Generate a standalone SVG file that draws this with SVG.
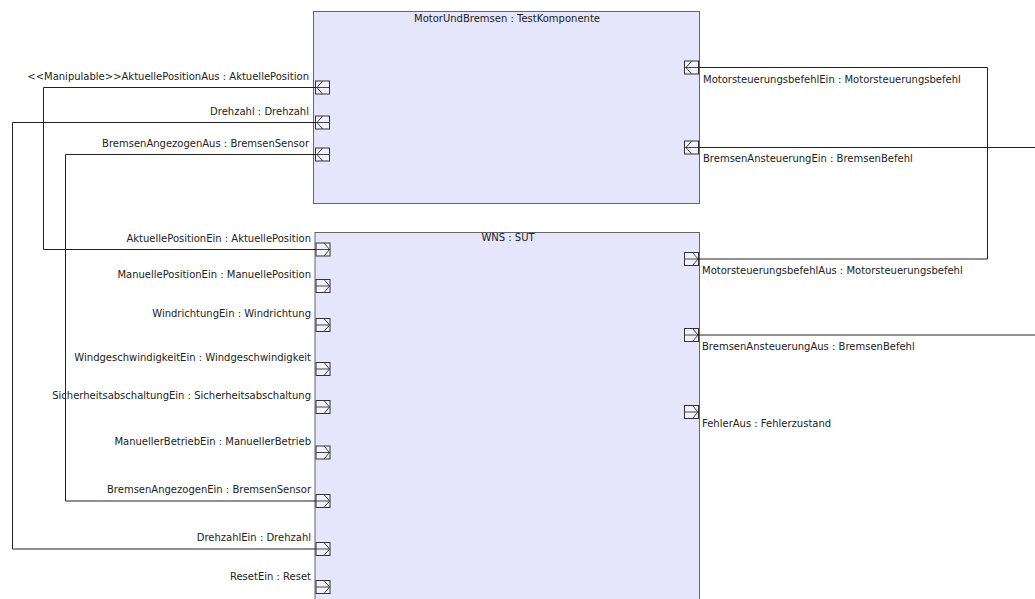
<svg xmlns="http://www.w3.org/2000/svg" width="1035" height="599" viewBox="0 0 1035 599">
<defs>
<style>
.box{fill:#e5e5fb;stroke:#666;stroke-width:1}
.port{fill:#f2f2fa;stroke:#333;stroke-width:1}
.glyph{fill:none;stroke:#333;stroke-width:0.9}
.conn{fill:none;stroke:#222;stroke-width:1}
text{font-family:"DejaVu Sans","Liberation Sans",sans-serif;font-size:10px;fill:#222}
.l{text-anchor:end}
.t{text-anchor:middle}
</style>
<g id="pin">
<rect class="port" x="0" y="0" width="14" height="13"/>
<path class="glyph" d="M0 6.5H14M7 0L1.5 6.5L7 13"/>
</g>
<g id="pout">
<rect class="port" x="0" y="0" width="14" height="13"/>
<path class="glyph" d="M0 6.5H14M8 0L13.5 6.5L8 13"/>
</g>
</defs>
<rect width="1035" height="599" fill="#fff"/>

<g id="MotorUndBremsen">
<rect class="box" x="313.5" y="11.5" width="386" height="192"/>
<text class="t" x="507" y="22">MotorUndBremsen : TestKomponente</text>
<use href="#pin" x="315.5" y="81"/>
<use href="#pin" x="315.5" y="116"/>
<use href="#pin" x="315.5" y="148"/>
<use href="#pin" x="684.5" y="61"/>
<use href="#pin" x="684.5" y="141"/>
<text class="l" x="309" y="80">&lt;&lt;Manipulable&gt;&gt;AktuellePositionAus : AktuellePosition</text>
<text class="l" x="309" y="115">Drehzahl : Drehzahl</text>
<text class="l" x="309" y="147">BremsenAngezogenAus : BremsenSensor</text>
<text x="703" y="83">MotorsteuerungsbefehlEin : Motorsteuerungsbefehl</text>
<text x="703" y="162">BremsenAnsteuerungEin : BremsenBefehl</text>
</g>

<g id="WNS">
<rect class="box" x="315" y="232.5" width="384.5" height="380"/>
<text class="t" x="508" y="241">WNS : SUT</text>
<use href="#pout" x="316" y="243"/>
<use href="#pout" x="316" y="279.5"/>
<use href="#pout" x="316" y="318.5"/>
<use href="#pout" x="316" y="362.5"/>
<use href="#pout" x="316" y="400.5"/>
<use href="#pout" x="316" y="446"/>
<use href="#pout" x="316" y="494.5"/>
<use href="#pout" x="316" y="542.5"/>
<use href="#pout" x="316" y="580.5"/>
<use href="#pout" x="684.5" y="252.5"/>
<use href="#pout" x="684.5" y="328.5"/>
<use href="#pout" x="684.5" y="405.5"/>
<text class="l" x="311" y="242">AktuellePositionEin : AktuellePosition</text>
<text class="l" x="311" y="278">ManuellePositionEin : ManuellePosition</text>
<text class="l" x="311" y="317">WindrichtungEin : Windrichtung</text>
<text class="l" x="311" y="361">WindgeschwindigkeitEin : Windgeschwindigkeit</text>
<text class="l" x="311" y="399">SicherheitsabschaltungEin : Sicherheitsabschaltung</text>
<text class="l" x="311" y="445">ManuellerBetriebEin : ManuellerBetrieb</text>
<text class="l" x="311" y="493">BremsenAngezogenEin : BremsenSensor</text>
<text class="l" x="311" y="541">DrehzahlEin : Drehzahl</text>
<text class="l" x="311" y="580">ResetEin : Reset</text>
<text x="702" y="274">MotorsteuerungsbefehlAus : Motorsteuerungsbefehl</text>
<text x="702" y="350">BremsenAnsteuerungAus : BremsenBefehl</text>
<text x="702" y="427">FehlerAus : Fehlerzustand</text>
</g>

<g id="connectors">
<path class="conn" d="M315.5 87.5H43.5V249.5H316"/>
<path class="conn" d="M315.5 122.5H12.5V549H316"/>
<path class="conn" d="M315.5 154.5H65.5V501H316"/>
<path class="conn" d="M698.5 259H987.5V67.5H698.5"/>
<path class="conn" d="M698.5 147.5H1035"/>
<path class="conn" d="M698.5 335H1035"/>
</g>
</svg>
